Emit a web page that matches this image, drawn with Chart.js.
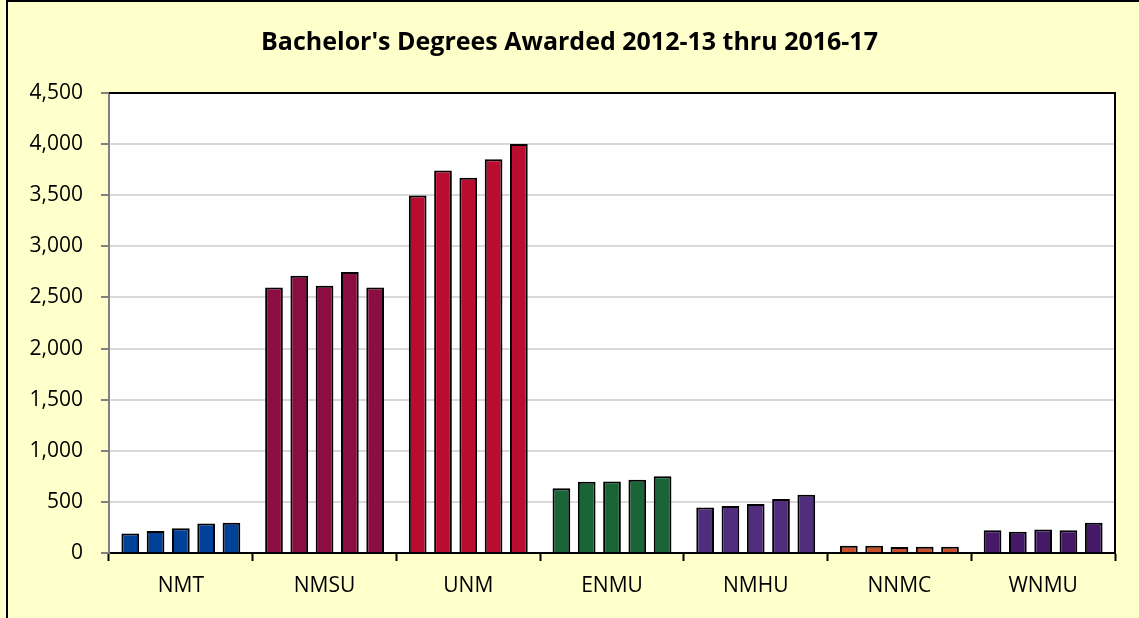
<!DOCTYPE html>
<html>
<head>
<meta charset="utf-8">
<title>Bachelor's Degrees Awarded</title>
<script src="https://cdn.jsdelivr.net/npm/chart.js@4.4.1/dist/chart.umd.min.js"></script>
<style>
  html, body { margin: 0; padding: 0; background: #FFFFCC; }
  #chart { display: block; }
</style>
</head>
<body>
<canvas id="chart" width="1139" height="618"></canvas>
<script>
// schools on the x axis
const schools = ['NMT', 'NMSU', 'UNM', 'ENMU', 'NMHU', 'NNMC', 'WNMU'];
// one bar per academic year, colour comes from the school
const years = ['2012-13', '2013-14', '2014-15', '2015-16', '2016-17'];
const y2012 = [190, 2598, 3497, 634, 444, 72, 222];
const y2013 = [216, 2712, 3742, 696, 461, 72, 209];
const y2014 = [242, 2614, 3670, 699, 480, 59, 229];
const y2015 = [288, 2748, 3853, 716, 529, 62, 222];
const y2016 = [297, 2598, 4000, 752, 569, 62, 297];
const schoolColors = ['#00429A', '#8B0D42', '#BA0C2F', '#196537', '#512D7E', '#C8502A', '#461868'];

const yearValues = [y2012, y2013, y2014, y2015, y2016];

const fontFamily = "'Open Sans', 'Liberation Sans', sans-serif";

// yellow page, white plot area
const backdrop = {
  id: 'backdrop',
  beforeDraw(chart) {
    const { ctx, chartArea: a } = chart;
    ctx.save();
    ctx.fillStyle = '#FFFFCC';
    ctx.fillRect(0, 0, chart.width, chart.height);
    ctx.fillStyle = '#FFFFFF';
    ctx.fillRect(a.left, a.top, a.right - a.left, a.bottom - a.top);
    ctx.restore();
  },
  afterDraw(chart) {
    const { ctx, chartArea: a } = chart;
    ctx.save();
    ctx.strokeStyle = '#000';
    ctx.lineWidth = 2;
    // plot area frame: top and right
    ctx.beginPath();
    ctx.moveTo(a.left, a.top);
    ctx.lineTo(a.right, a.top);
    ctx.lineTo(a.right, a.bottom);
    ctx.stroke();
    // outer chart border
    ctx.beginPath();
    ctx.moveTo(7, chart.height + 2);
    ctx.lineTo(7, 1);
    ctx.lineTo(chart.width + 2, 1);
    ctx.stroke();
    ctx.restore();
  }
};

new Chart(document.getElementById('chart'), {
  type: 'bar',
  data: {
    labels: schools,
    datasets: years.map((yr, i) => ({
      label: yr,
      data: yearValues[i],
      backgroundColor: schoolColors,
      borderColor: '#000',
      borderWidth: 2,
      categoryPercentage: 0.88,
      barPercentage: 0.7
    }))
  },
  options: {
    responsive: false,
    animation: false,
    devicePixelRatio: 1,
    layout: { padding: 0 },
    plugins: {
      legend: { display: false },
      tooltip: { enabled: false },
      title: {
        display: true,
        text: "Bachelor's Degrees Awarded 2012-13 thru 2016-17",
        color: '#000',
        font: { family: fontFamily, size: 25, weight: 'bold', lineHeight: 1.2 },
        padding: { top: 28, bottom: 35 }
      }
    },
    scales: {
      x: {
        afterFit(scale) { scale.height = 65; },
        grid: {
          offset: true,
          drawOnChartArea: false,
          drawTicks: true,
          tickLength: 8,
          tickColor: '#000',
          tickWidth: 2
        },
        border: { color: '#000', width: 2 },
        ticks: {
          color: '#000',
          padding: 12,
          font: { family: fontFamily, size: 21 }
        }
      },
      y: {
        min: 0,
        max: 4500,
        afterFit(scale) { scale.width = 109; },
        grid: {
          color: '#D9D9D9',
          lineWidth: 2,
          tickLength: 8,
          tickColor: '#808080',
          tickWidth: 2
        },
        border: { color: '#808080', width: 2 },
        ticks: {
          stepSize: 500,
          color: '#000',
          padding: 18,
          font: { family: fontFamily, size: 21 },
          callback: v => v.toLocaleString('en-US')
        }
      },
      // empty strip on the right so the title stays centred on the page
      spacer: {
        position: 'right',
        afterFit(scale) { scale.width = 24; },
        grid: { display: false },
        border: { display: false },
        ticks: { display: false }
      }
    }
  },
  plugins: [backdrop]
});
</script>
</body>
</html>
